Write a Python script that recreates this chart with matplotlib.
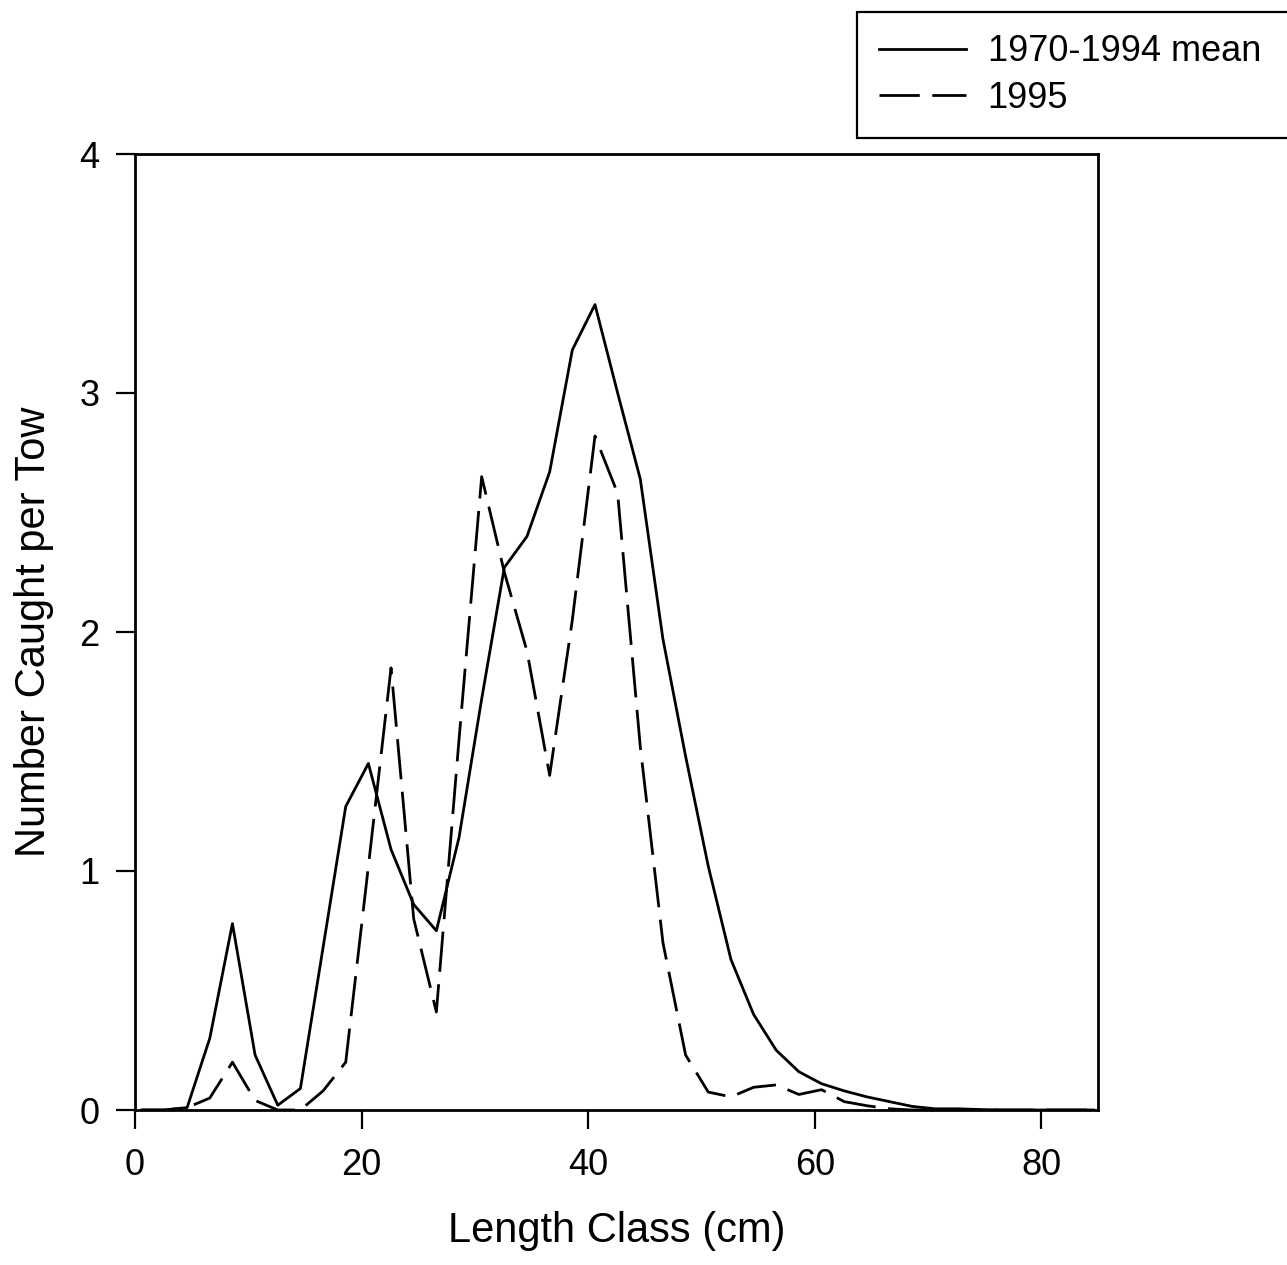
import matplotlib
matplotlib.use("Agg")
import matplotlib.pyplot as plt

# ---- data ----
length_class = [0.6, 2.6, 4.6, 6.6, 8.6, 10.6, 12.6, 14.6, 16.6, 18.6,
                20.6, 22.6, 24.6, 26.6, 28.6, 30.6, 32.6, 34.6, 36.6, 38.6,
                40.6, 42.6, 44.6, 46.6, 48.6, 50.6, 52.6, 54.6, 56.6, 58.6,
                60.6, 62.6, 64.6, 66.6, 68.6, 70.6, 72.6, 74.6, 76.6, 78.6,
                80.6, 82.6, 84.6]
mean_1970_1994 = [0.0, 0.0, 0.01, 0.30, 0.78, 0.23, 0.02, 0.09, 0.68, 1.27,
                  1.45, 1.09, 0.86, 0.75, 1.14, 1.72, 2.27, 2.40, 2.67, 3.18,
                  3.37, 3.00, 2.64, 1.97, 1.48, 1.02, 0.63, 0.40, 0.25, 0.16,
                  0.11, 0.08, 0.055, 0.035, 0.015, 0.005, 0.005, 0.002, 0.0, 0.0,
                  0.0, 0.0, 0.0]
year_1995 = [0.0, 0.0, 0.01, 0.05, 0.20, 0.04, 0.0, 0.0, 0.08, 0.20,
             1.02, 1.85, 0.80, 0.41, 1.55, 2.65, 2.25, 1.92, 1.40, 2.05,
             2.82, 2.58, 1.52, 0.70, 0.23, 0.075, 0.055, 0.095, 0.105, 0.065,
             0.085, 0.035, 0.018, 0.005, 0.0, 0.0, 0.0, 0.0, 0.0, 0.0,
             0.0, 0.0, 0.0]
x_ticks = [0, 20, 40, 60, 80]
y_ticks = [0, 1, 2, 3, 4]
series_labels = ["1970-1994 mean", "1995"]

plt.rcParams['font.family'] = ['Liberation Sans', 'DejaVu Sans']

W, H = 1287, 1265
fig = plt.figure(figsize=(W / 100, H / 100), dpi=100)
ax = fig.add_axes([135 / W, 1 - 1110 / H, (1098 - 135) / W, (1110 - 154) / H])

ax.plot(length_class, mean_1970_1994, color='black', lw=2.0,
        label=series_labels[0])
ax.plot(length_class, year_1995, color='black', lw=2.0,
        dashes=(14.5, 4.5), label=series_labels[1])

ax.set_xlim(0, 85)
ax.set_ylim(0, 4)
ax.set_xticks(x_ticks)
ax.set_yticks(y_ticks)
ax.tick_params(direction='out', length=13.5, width=1.6, labelsize=26,
               color='black')
ax.tick_params(axis='x', pad=14)
ax.tick_params(axis='y', pad=12)
for s in ax.spines.values():
    s.set_linewidth(2.0)
    s.set_color('black')

ax.set_xlabel("Length Class (cm)", fontsize=30, labelpad=20)
ax.set_ylabel("Number Caught per Tow", fontsize=30, labelpad=18)

leg = fig.legend(loc='upper left',
                 bbox_to_anchor=(857 / W, 1 - 12 / H, 0.36, 0.0),
                 mode='expand',
                 fontsize=26, handlelength=2.4, handletextpad=0.6,
                 borderpad=0.62, labelspacing=0.32, fancybox=False,
                 framealpha=1, edgecolor='black', borderaxespad=0)
leg.get_frame().set_linewidth(1.6)

fig.savefig("out.png", dpi=100)
